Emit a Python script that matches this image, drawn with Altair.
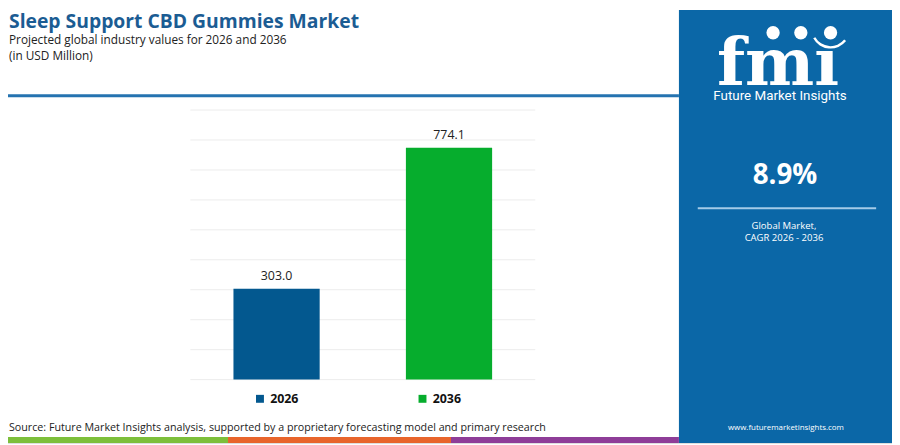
import altair as alt
import pandas as pd

# ---- data ----
years = ["2026", "2036"]
values = [303.0, 774.1]
value_labels = ["303.0", "774.1"]
grid_ticks = [0, 100, 200, 300, 400, 500, 600, 700, 800, 900]
bar_colors = ["#03588f", "#06ad2d"]

title_text = "Sleep Support CBD Gummies Market"
subtitle_lines = ["Projected global industry values for 2026 and 2036", "(in USD Million)"]
source_text = "Source: Future Market Insights analysis, supported by a proprietary forecasting model and primary research"
cagr_text = "8.9%"
cagr_lines = ["Global Market,", "CAGR 2026 - 2036"]
brand_text = "Future Market Insights"
logo_text = "fm\u0131"
url_text = "www.futuremarketinsights.com"

W, H = 900, 445
PANEL = "#0b67a7"
FONT = "Open Sans"

bars_df = pd.DataFrame({"year": years, "value": values, "label": value_labels})
grid_df = pd.DataFrame({"v": grid_ticks})
one = pd.DataFrame({"a": [0]})

xs = alt.Scale(domain=years, range=[192, 540], paddingInner=0, paddingOuter=0)
ys = alt.Scale(domain=[0, 900], range=[381, 109], nice=False, zero=True)
cs = alt.Scale(domain=years, range=bar_colors)

grid = alt.Chart(grid_df).mark_rule(color="#ececec", strokeWidth=1).encode(
    y=alt.Y("v:Q", scale=ys, axis=None),
    x=alt.value(192), x2=alt.value(540),
)

bars = alt.Chart(bars_df).mark_bar(size=87).encode(
    x=alt.X("year:N", scale=xs, axis=None),
    y=alt.Y("value:Q", scale=ys, axis=None),
    color=alt.Color("year:N", scale=cs, legend=alt.Legend(
        title=None, orient="none", legendX=256, legendY=394, direction="horizontal",
        symbolType="square", symbolSize=64, symbolStrokeWidth=0, labelFont=FONT,
        labelFontSize=12.5, labelFontWeight="bold", labelColor="#111111",
        columnPadding=118, labelOffset=4)),
)

labels = alt.Chart(bars_df).mark_text(baseline="alphabetic", dy=-9, font=FONT, fontSize=12.5,
                                       color="#222222").encode(
    x=alt.X("year:N", scale=xs, axis=None),
    y=alt.Y("value:Q", scale=ys, axis=None),
    text="label:N",
)

def txt(s, x, y, size, color="#222222", weight="normal", align="center", font=FONT):
    return alt.Chart(one).mark_text(text=s, align=align, baseline="alphabetic", font=font,
                                    fontSize=size, fontWeight=weight, color=color).encode(
        x=alt.value(x), y=alt.value(y))

def box(x, x2, y, y2, color):
    return alt.Chart(one).mark_rect(color=color).encode(
        x=alt.value(x), x2=alt.value(x2), y=alt.value(y), y2=alt.value(y2))

layers = [
    box(0, 685, 0, 2, "#e2e2e2"),
    box(0, 1.5, 0, 445, "#e2e2e2"),
    box(0, 685, 93, 96, "#2573b0"),
    box(685, W, 8, H, PANEL),
    grid, bars, labels,
    txt(title_text, 9, 26.5, 19.5, color="#1b5c93", weight="bold", align="left"),
    txt(subtitle_lines[0], 9, 42.5, 11.9, align="left"),
    txt(subtitle_lines[1], 9, 58, 11.9, align="left"),
    txt(source_text, 9, 433, 10.8, color="#222222", align="left"),
    box(0, 230, 439, 445, "#7dbf3b"),
    box(230, 455, 439, 445, "#e8652c"),
    box(455, 685, 439, 445, "#8e3d98"),
    # panel content
    txt(logo_text, 785, 84, 66, color="white", weight="bold", font="DejaVu Serif"),
    txt(brand_text, 787, 98.5, 13.5, color="white", font="Roboto"),
    txt(cagr_text, 792, 184, 28, color="white", weight="bold"),
    box(704, 884, 207, 209, "#a5cbe8"),
    txt(cagr_lines[0], 791, 229, 9.6, color="white"),
    txt(cagr_lines[1], 791, 241, 9.6, color="white"),
    txt(url_text, 793, 432, 8, color="white"),
    alt.Chart(one).mark_arc(theta=2.24, theta2=4.21, radius=20, radius2=17.5, color="white").encode(
        x=alt.value(838), y=alt.value(27)),
]

for cx in [780, 808, 838]:
    layers.append(alt.Chart(one).mark_point(shape="circle", filled=True, size=180, color="white",
                                            opacity=1).encode(x=alt.value(cx), y=alt.value(31)))

chart = alt.layer(*layers).properties(
    width=W, height=H, autosize=alt.AutoSizeParams(type="none"),
    padding={"left": -8, "top": -8, "right": 0, "bottom": 0},
).configure_view(strokeWidth=0).configure(background="white")

chart.save("out.html", embed_options={"renderer": "svg", "actions": False})
